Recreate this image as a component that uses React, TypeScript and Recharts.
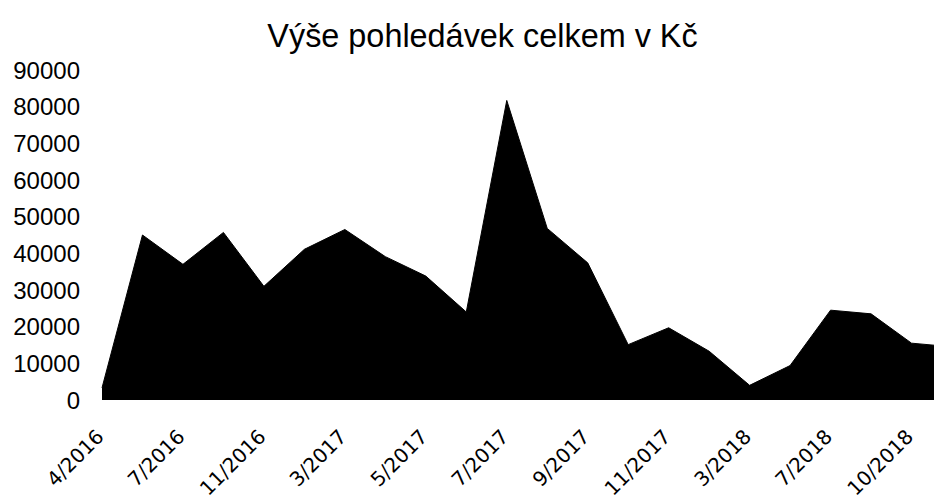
import React from "react";
import { AreaChart, Area, XAxis, YAxis } from "recharts";

// months (only every other one is labelled on the axis)
const months = [
  "4/2016", "5/2016", "7/2016", "9/2016", "11/2016", "1/2017", "3/2017", "4/2017",
  "5/2017", "6/2017", "7/2017", "8/2017", "9/2017", "10/2017", "11/2017", "1/2018",
  "3/2018", "5/2018", "7/2018", "9/2018", "10/2018", "11/2018"
];

const amounts = [
  3300, 45000, 37000, 45700, 31000, 41100, 46500, 39100, 33800, 24000, 81700,
  46800, 37400, 15100, 19700, 13300, 4000, 9400, 24500, 23500, 15500, 14500
];

const yTicks = [0, 10000, 20000, 30000, 40000, 50000, 60000, 70000, 80000, 90000];

const data = months.map((m, i) => ({ month: m, value: amounts[i] }));

const MonthTick = (props: any) => {
  const { x, y, payload } = props;
  const px = x + 3;
  const py = y + 38;
  return (
    <text
      x={px}
      y={py}
      textAnchor="end"
      transform={`rotate(-45, ${px}, ${py})`}
      fontFamily="DejaVu Sans"
      fontSize={20}
      fill="#000"
    >
      {payload.value}
    </text>
  );
};

export default function App() {
  return (
    <div style={{ position: "relative", width: 934, height: 488, overflow: "hidden", background: "#fff" }}>
      <div
        style={{
          position: "absolute",
          top: 12,
          left: 0,
          width: 949,
          textAlign: "center",
          fontFamily: "Liberation Sans",
          fontSize: 32.4,
          lineHeight: "32px",
          color: "#000",
        }}
      >
        Výše pohledávek celkem v Kč
      </div>
      <AreaChart width={954} height={488} data={data} margin={{ top: 62, right: 10, left: 0, bottom: 6 }}>
        <XAxis
          dataKey="month"
          interval={1}
          axisLine={false}
          tickLine={false}
          tickSize={0}
          tickMargin={0}
          height={90}
          tick={<MonthTick />}
        />
        <YAxis
          width={94}
          domain={[0, 90000]}
          ticks={yTicks}
          axisLine={false}
          tickLine={false}
          tickSize={0}
          tickMargin={22}
          tick={{ fontFamily: "Liberation Sans", fontSize: 24, fill: "#000" }}
        />
        <Area
          type="linear"
          dataKey="value"
          stroke="#000"
          strokeWidth={1}
          fill="#000"
          fillOpacity={1}
          isAnimationActive={false}
        />
      </AreaChart>
    </div>
  );
}
